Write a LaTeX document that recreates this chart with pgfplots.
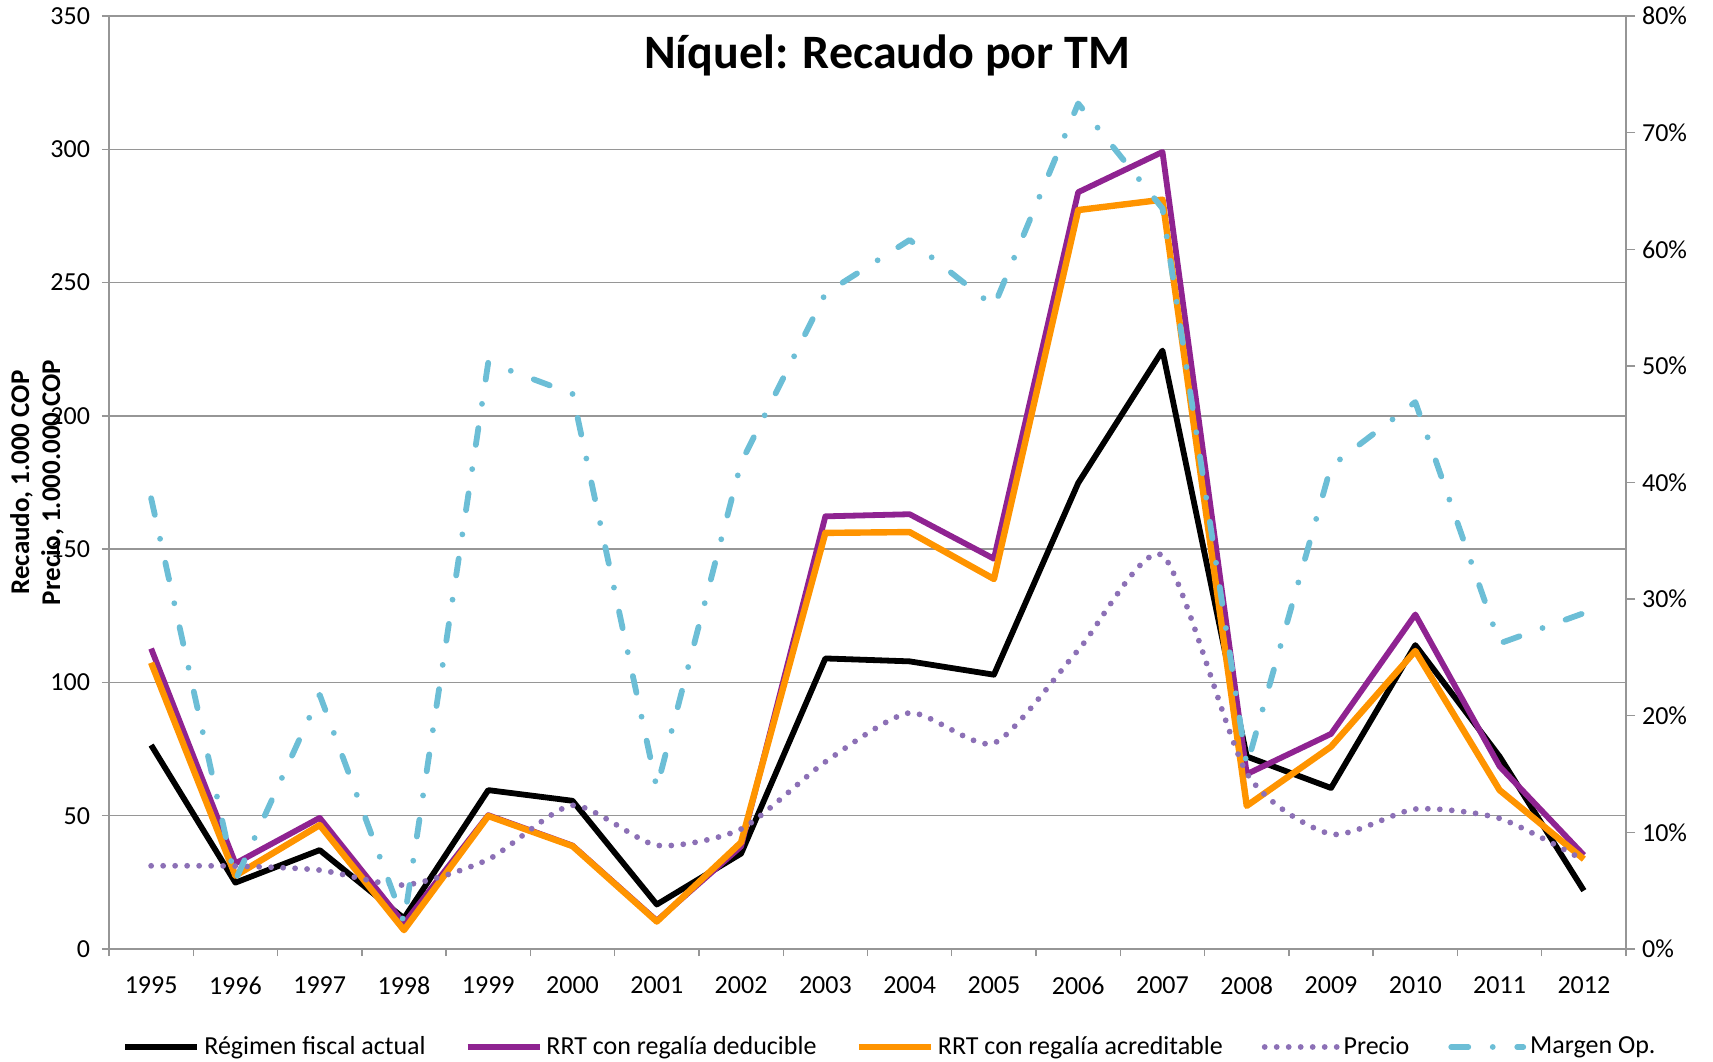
\documentclass[border=0pt]{standalone}
\usepackage{pgfplots}
\pgfplotsset{compat=1.18}
\usepackage{fontspec}
\setmainfont{Carlito}
\definecolor{axisgray}{RGB}{150,150,150}
\definecolor{cpurple}{RGB}{143,35,145}
\definecolor{corange}{RGB}{255,148,0}
\definecolor{cprecio}{RGB}{140,112,182}
\definecolor{cmargen}{RGB}{108,190,214}
\pgfplotstableread{
x reg ded acr precio margen
0 76.5 112.7 107.4 31.2 38.65
1 24.9 32.1 27.5 31.1 5.9
2 37.1 49.2 46.5 29.6 21.8
3 11.5 9.6 7.1 24.0 2.3
4 59.6 50.2 49.9 33.6 50.3
5 55.6 38.8 38.6 53.9 47.6
6 16.7 10.6 10.3 38.9 13.8
7 35.8 38.5 40.0 45.0 41.7
8 109.0 162.3 156.1 70.2 56.2
9 107.9 163.1 156.4 88.6 60.8
10 102.9 146.4 138.8 77.2 55.1
11 174.8 283.9 277.2 112.1 72.5
12 224.5 299.0 281.1 147.7 63.5
13 72.2 65.6 53.7 66.0 15.7
14 60.4 80.7 75.9 43.1 41.4
15 114.0 125.5 111.8 52.5 46.9
16 72.2 68.5 59.6 49.0 26.2
17 21.9 35.2 33.7 33.3 28.8
}\datatable
\tikzset{
  sreg/.style={black, line width=2.9pt, line join=round},
  sded/.style={cpurple, line width=2.9pt, line join=round},
  sacr/.style={corange, line width=3.2pt, line join=round},
  sprecio/.style={cprecio, line width=2.9pt, line cap=round, dash pattern=on 0pt off 6pt},
  smargen/.style={cmargen, line width=2.9pt, line cap=round, line join=round, dash pattern=on 8.5pt off 12.25pt on 0pt off 12.25pt},
}
\pgfplotsset{
  common/.style={
    scale only axis, width=758.5pt, height=466.5pt,
    xmin=-0.5, xmax=17.5,
    tick align=outside,
    axis line style={draw=axisgray, line width=0.7pt},
    tick style={draw=axisgray, line width=0.7pt},
    tick label style={font=\fontsize{13}{15}\selectfont},
    /pgf/number format/assume math mode=true,
  }
}
\begin{document}
\begin{tikzpicture}
\begin{axis}[common,
  ymin=0, ymax=350,
  axis x line*=bottom, axis y line*=left,
  xtick={0,...,17},
  xticklabels={1995,1996,1997,1998,1999,2000,2001,2002,2003,2004,2005,2006,2007,2008,2009,2010,2011,2012},
  xticklabel style={yshift=-7pt},
  yticklabel style={xshift=-2.5pt},
  minor xtick={-0.5,0.5,...,17.5},
  major x tick style={draw=none},
  minor tick length=3.5pt,
  major tick length=3.5pt,
  ytick={0,50,...,350},
  ymajorgrids,
  grid style={draw=axisgray, line width=0.7pt},
  every axis y label/.style={at={(axis description cs:-0.0475,0.5)}, rotate=90, anchor=center, align=center, font=\fontsize{13.5}{15.5}\selectfont\bfseries},
  ylabel={Recaudo, 1.000 COP\\Precio, 1.000.000 COP},
]
\addplot[sreg] table[x=x,y=reg]{\datatable};
\addplot[sded] table[x=x,y=ded]{\datatable};
\addplot[sacr] table[x=x,y=acr]{\datatable};
\addplot[sprecio, smooth, tension=0.4] table[x=x,y=precio]{\datatable};
\node[font=\fontsize{24}{28}\selectfont\bfseries] at (axis description cs:0.513,0.958) {Níquel: Recaudo por TM};
\end{axis}
\begin{axis}[common,
  ymin=0, ymax=80,
  axis y line*=right, axis x line=none,
  ytick={0,10,...,80},
  major tick length=4.5pt,
  yticklabel={\pgfmathprintnumber{\tick}\%},
  legend columns=5,
  legend style={at={(axis description cs:0.5155,-0.105)}, anchor=center, draw=none, fill=none,
    font=\fontsize{13}{15}\selectfont,
    /tikz/every even column/.append style={column sep=17.5pt}},
  legend image code/.code={\draw[#1] (0pt,0pt) -- (36pt,0pt);},
]
\addlegendimage{sreg}
\addlegendentry{Régimen fiscal actual}
\addlegendimage{sded}
\addlegendentry{RRT con regalía deducible}
\addlegendimage{sacr}
\addlegendentry{RRT con regalía acreditable}
\addlegendimage{sprecio}
\addlegendentry{Precio}
\addplot[smargen] table[x=x,y=margen]{\datatable};
\addlegendentry{Margen Op.}
\end{axis}
\pgfresetboundingbox
\path (-54.5pt,-56pt) rectangle (802pt,474.5pt);
\end{tikzpicture}
\end{document}
